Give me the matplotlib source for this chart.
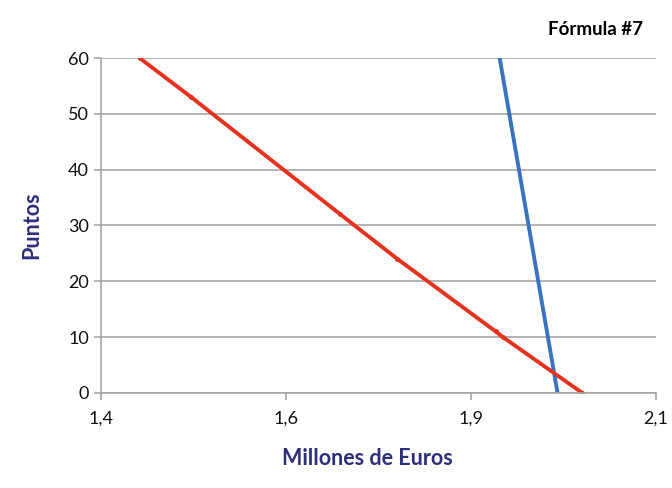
import matplotlib.pyplot as plt
from matplotlib.ticker import FixedLocator

# Puntos de la fórmula: millones de euros frente a puntos
rojo_x = [1.449, 1.514, 1.702, 1.774, 1.898, 1.907, 2.007]
rojo_y = [60, 53, 32, 24, 11, 10, 0]

azul_x = [1.903, 1.976]
azul_y = [60, 0]

x_ticks = [1.4, 1.6333, 1.8667, 2.1]
x_labels = ["1,4", "1,6", "1,9", "2,1"]
y_ticks = [0, 10, 20, 30, 40, 50, 60]

plt.rcParams["font.family"] = ["Lato", "DejaVu Sans"]

fig = plt.figure(figsize=(6.72, 4.88), dpi=100)
ax = fig.add_axes([0.150, 0.195, 0.826, 0.686])

gris = "#a6a6a6"
ax.grid(axis="y", color=gris, linewidth=1.2)
ax.set_axisbelow(True)

ax.plot(azul_x, azul_y, color="#3b72bf", linewidth=2.8, solid_capstyle="round")
ax.plot(rojo_x, rojo_y, color="#e4321f", linewidth=2.8, solid_capstyle="round",
        marker="o", markersize=2.5)

ax.set_xlim(1.4, 2.1)
ax.set_ylim(0, 60)
ax.xaxis.set_major_locator(FixedLocator(x_ticks))
ax.set_xticklabels(x_labels)
ax.set_yticks(y_ticks)

for lado in ["top", "right"]:
    ax.spines[lado].set_visible(False)
for lado in ["left", "bottom"]:
    ax.spines[lado].set_color(gris)
    ax.spines[lado].set_linewidth(1.2)

ax.tick_params(axis="both", colors=gris, labelcolor="#111111", labelsize=13,
               length=5, width=1.2)
ax.tick_params(axis="x", pad=8)

ax.set_xlabel("Millones de Euros", fontsize=15.5, fontweight="bold",
              color="#2e2f78")
ax.xaxis.set_label_coords(0.48, -0.165)
ax.set_ylabel("Puntos", fontsize=15.5, fontweight="bold", color="#2e2f78")
ax.yaxis.set_label_coords(-0.105, 0.5)

fig.text(0.957, 0.94, "Fórmula #7", fontsize=13.5, fontweight="bold",
         ha="right", va="center")

fig.savefig("out.png", dpi=100)
